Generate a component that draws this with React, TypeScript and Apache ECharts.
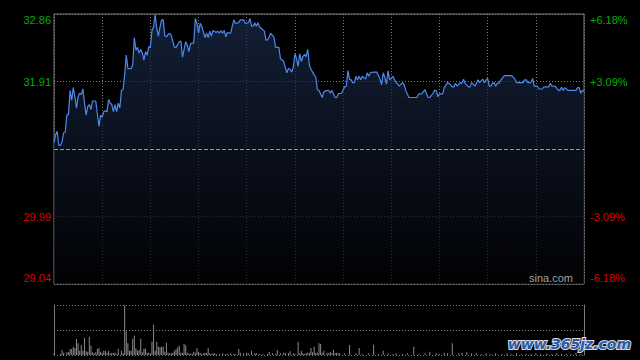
import React, { useEffect, useRef } from "react";
import * as echarts from "echarts";

// previous close and the percentage ticks of the right axis
const prevClose = 30.95;
const pctTicks = [6.18, 3.09, -3.09, -6.18];
const sessionMinutes = 330; // 09:30-12:00 + 13:00-16:00
const halfHour = 30;
const volumeAxisMax = 150;

// minute index since open, and last price at that minute
const minutes = [
  0, 1, 2, 3, 4, 5, 6, 7, 8, 9, 10, 11, 12, 13, 14, 15, 16, 17, 18, 19, 20, 21, 22, 23, 24, 26, 27, 28, 29, 30,
  31, 32, 33, 34, 35, 36, 37, 38, 39, 40, 41, 42, 43, 44, 45, 46, 48, 49, 50, 51, 52, 53, 54, 55, 56, 57, 58, 59, 60,
  61, 62, 63, 64, 65, 66, 67, 68, 69, 70, 71, 72, 73, 75, 76, 78, 79, 80, 82, 83, 84, 85, 86, 87, 88, 89, 90,
  91, 92, 93, 94, 95, 96, 97, 98, 99, 101, 102, 103, 104, 105, 106, 107, 108, 110, 111, 112, 113, 115, 116, 118, 119,
  121, 122, 123, 124, 125, 126, 127, 128, 129, 131, 132, 133, 134, 135, 137, 138, 140, 141, 142, 143, 145, 146, 147,
  148, 149, 150, 151, 152, 153, 154, 155, 156, 157, 158, 159, 160, 162, 163, 164, 165, 167, 168, 170, 171, 172, 173,
  175, 176, 177, 179, 181, 182, 183, 184, 185, 186, 187, 188, 189, 190, 191, 192, 194, 195, 196, 197, 199, 201, 202,
  203, 204, 205, 206, 207, 208, 209, 210, 211, 213, 214, 215, 217, 218, 219, 221, 226, 227, 229, 231, 232, 233, 234,
  236, 237, 238, 239, 240, 242, 243, 245, 246, 248, 249, 250, 251, 253, 254, 255, 256, 258, 259, 260, 262, 263, 264,
  265, 267, 268, 269, 270, 271, 272, 273, 274, 275, 276, 277, 278, 280, 281, 285, 287, 288, 292, 293, 294, 295, 297,
  298, 299, 301, 302, 304, 305, 308, 309, 310, 312, 314, 315, 316, 317, 318, 319, 320, 325, 326, 327, 328, 329, 330,
];
const prices = [
  31.04, 31.15, 31.2, 31.0, 31.0, 31.05, 31.18, 31.19, 31.43, 31.44, 31.78, 31.64, 31.82, 31.69, 31.53, 31.69, 31.74,
  31.72, 31.8, 31.6, 31.43, 31.55, 31.58, 31.51, 31.63, 31.63, 31.45, 31.27, 31.43, 31.4,
  31.48, 31.49, 31.48, 31.65, 31.6, 31.58, 31.48, 31.58, 31.48, 31.6, 31.53, 31.78, 31.79, 32.0, 32.28, 32.09, 32.09,
  32.14, 32.53, 32.35, 32.39, 32.31, 32.36, 32.31, 32.21, 32.33, 32.28, 32.4, 32.39,
  32.63, 32.68, 32.85, 32.66, 32.55, 32.68, 32.78, 32.78, 32.55, 32.54, 32.57, 32.59, 32.56, 32.39, 32.39, 32.47,
  32.48, 32.25, 32.47, 32.42, 32.33, 32.44, 32.45, 32.45, 32.8, 32.73, 32.59,
  32.73, 32.69, 32.61, 32.53, 32.59, 32.53, 32.62, 32.55, 32.63, 32.6, 32.62, 32.59, 32.63, 32.59, 32.63, 32.54,
  32.6, 32.59, 32.69, 32.78, 32.73, 32.74, 32.78, 32.78, 32.73,
  32.74, 32.8, 32.69, 32.69, 32.74, 32.69, 32.74, 32.68, 32.66, 32.62, 32.49, 32.5, 32.54, 32.59, 32.53, 32.39, 32.39,
  32.23, 32.21, 32.19, 32.03, 32.09, 32.08,
  32.04, 32.11, 32.3, 32.23, 32.12, 32.3, 32.19, 32.26, 32.29, 32.26, 32.36, 32.14, 32.08, 32.0, 31.97, 31.79, 31.78,
  31.68, 31.76, 31.78, 31.78, 31.74, 31.78,
  31.68, 31.68, 31.73, 31.74, 31.83, 31.84, 32.06, 31.94, 31.93, 31.89, 31.89, 31.98, 31.93, 31.98, 31.93, 31.98,
  31.94, 32.03, 31.98, 32.03, 32.04, 32.04, 31.99,
  31.94, 31.86, 32.03, 31.96, 31.87, 32.06, 31.93, 31.95, 31.98, 31.89, 31.87, 31.84, 31.89, 31.86, 31.78, 31.68,
  31.68, 31.73, 31.73, 31.79, 31.73, 31.68, 31.68,
  31.74, 31.78, 31.78, 31.69, 31.73, 31.73, 31.82, 31.89, 31.88, 31.83, 31.83, 31.88, 31.84, 31.89, 31.88, 31.94,
  31.88, 31.83, 31.83, 31.89, 31.84, 31.88, 31.93,
  31.89, 31.94, 31.89, 31.93, 31.95, 31.84, 31.84, 31.88, 31.89, 31.84, 31.88, 31.88, 31.92, 31.98, 31.99, 31.99,
  31.94, 31.89, 31.89, 31.93, 31.93, 31.89, 31.89,
  31.95, 31.84, 31.84, 31.8, 31.8, 31.83, 31.83, 31.88, 31.84, 31.84, 31.78, 31.78, 31.83, 31.78, 31.82, 31.8, 31.78,
  31.78, 31.82, 31.82, 31.74, 31.78, 31.77,
];

// minute index and traded volume (thousand shares) for the bars below
const volMinutes = [
  0, 4, 5, 6, 8, 9, 10, 11, 12, 13, 14, 15, 16, 17, 18, 19, 20, 21, 22, 23, 24, 25, 26, 27, 28, 29, 30, 31, 32, 33, 34,
  35, 36, 37, 38, 39, 40, 42, 43, 44, 45, 46, 47, 48, 49, 50, 51, 52, 53, 54, 55, 56, 57, 58, 59, 60, 61, 62, 63, 64,
  65, 66, 67, 68, 69, 70, 71, 72, 73, 74, 75, 76, 77, 78, 79, 80, 81, 82, 83, 84, 85, 86, 87, 88, 89, 90, 91, 92, 93,
  94, 95, 96, 97, 98, 99, 100, 101, 103, 105, 107, 108, 110, 112, 113, 115, 116, 118, 120, 121, 123, 125, 126, 128,
  130, 133, 134, 136, 138, 139, 141, 143, 144, 146, 147, 149, 150, 152, 153, 154, 155, 156, 157, 158, 159, 160, 161,
  162, 163, 164, 165, 166, 167, 168, 170, 171, 172, 173, 174, 175, 176, 177, 178, 181, 184, 188, 190, 192, 196, 199,
  202, 205, 208, 211, 213, 217, 220, 224, 227, 231, 234, 238, 240, 243, 245, 248, 252, 254, 257, 260, 263, 266, 269,
  272, 275, 279, 282, 285, 288, 291, 294, 297, 300, 303, 307, 310, 313, 316, 319, 322, 325, 328,
];
const volumes = [
  5, 3, 15, 7, 8, 9, 18, 18, 25, 21, 48, 35, 13, 30, 13, 52, 11, 10, 55, 28, 8, 5, 8, 18, 21, 10, 7, 13, 13, 7, 13,
  5, 6, 6, 7, 3, 19, 13, 5, 149, 71, 35, 13, 13, 49, 58, 20, 13, 15, 49, 8, 19, 19, 7, 7, 5, 40, 91, 13, 40,
  25, 23, 25, 25, 10, 37, 7, 5, 5, 7, 13, 17, 23, 28, 7, 7, 33, 29, 7, 5, 4, 3, 10, 7, 21, 10, 7, 3, 5, 7,
  7, 21, 5, 3, 5, 5, 3, 3, 5, 3, 3, 5, 3, 3, 18, 7, 5, 7, 5, 13, 5, 5, 3, 3,
  3, 10, 5, 3, 15, 5, 7, 7, 5, 11, 5, 3, 40, 5, 13, 5, 3, 5, 7, 7, 21, 8, 25,
  7, 7, 35, 33, 7, 13, 7, 5, 9, 5, 16, 5, 7, 5, 5, 5, 30, 5, 21, 3, 5, 31, 3,
  13, 5, 3, 5, 3, 5, 25, 3, 5, 10, 5, 3, 7, 5, 35, 5, 7, 8, 5, 5, 3, 5, 3,
  5, 3, 5, 3, 5, 3, 4, 3, 5, 3, 4, 3, 5, 3, 4, 3, 5, 3, 4,
];

const GREEN = "#00b000";
const RED = "#dd0000";
const GRID = "#7a7a7a";
const BORDER = "#7c7c7c";
const FONT = '"Liberation Sans", Arial, sans-serif';

export default function App() {
  const ref = useRef<HTMLDivElement>(null);

  useEffect(() => {
    if (!ref.current) return;
    const chart = echarts.init(ref.current, null, { renderer: "svg" });

    const pctMax = Math.max(...pctTicks);
    const priceMax = prevClose * (1 + pctMax / 100);
    const priceMin = prevClose * (1 - pctMax / 100);
    const priceTicks = pctTicks.map((p) => prevClose * (1 + p / 100));

    const near = (a: number, b: number) => Math.abs(a - b) < 1e-6;
    const pos = (v: number, lo: number, hi: number) => (near(v, hi) ? "T" : near(v, lo) ? "B" : "M");

    const richFor = () => ({
      upT: { color: GREEN, fontSize: 11, fontFamily: FONT, padding: [12, 0, 0, 0] },
      upM: { color: GREEN, fontSize: 11, fontFamily: FONT },
      upB: { color: GREEN, fontSize: 11, fontFamily: FONT, padding: [0, 0, 12, 0] },
      dnT: { color: RED, fontSize: 11, fontFamily: FONT, padding: [12, 0, 0, 0] },
      dnM: { color: RED, fontSize: 11, fontFamily: FONT },
      dnB: { color: RED, fontSize: 11, fontFamily: FONT, padding: [0, 0, 12, 0] },
    });

    const dotted = { color: GRID, type: [1, 2] as number[], width: 1 };

    chart.setOption({
      animation: false,
      backgroundColor: "#000000",
      grid: [
        { left: 54, right: 56, top: 14, height: 270, show: true, borderColor: BORDER, borderWidth: 1, backgroundColor: "transparent" },
        { left: 54, right: 56, top: 305, height: 50, show: false },
      ],
      xAxis: [
        {
          gridIndex: 0, type: "value", min: 0, max: sessionMinutes, interval: halfHour,
          axisLine: { show: false }, axisTick: { show: false }, axisLabel: { show: false },
          splitLine: { show: true, lineStyle: dotted },
        },
        {
          gridIndex: 1, type: "value", min: 0, max: sessionMinutes, interval: halfHour,
          axisLine: { show: false }, axisTick: { show: false }, axisLabel: { show: false },
          splitLine: { show: false },
        },
      ],
      yAxis: [
        {
          gridIndex: 0, type: "value", min: priceMin, max: priceMax, position: "left",
          axisLine: { show: false },
          axisTick: { show: false, customValues: priceTicks },
          axisLabel: {
            customValues: priceTicks, margin: 3,
            formatter: (v: number) => `{${v > prevClose ? "up" : "dn"}${pos(v, priceMin, priceMax)}|${v.toFixed(2)}}`,
            rich: richFor(),
          },
          splitLine: { show: true, lineStyle: dotted },
        },
        {
          gridIndex: 0, type: "value", min: -pctMax, max: pctMax, position: "right",
          axisLine: { show: false },
          axisTick: { show: false, customValues: pctTicks },
          axisLabel: {
            customValues: pctTicks, margin: 6,
            formatter: (v: number) =>
              `{${v > 0 ? "up" : "dn"}${pos(v, -pctMax, pctMax)}|${v > 0 ? "+" : ""}${v.toFixed(2)}%}`,
            rich: richFor(),
          },
          splitLine: { show: false },
        },
        {
          gridIndex: 1, type: "value", min: 0, max: volumeAxisMax, interval: volumeAxisMax / 2, position: "left",
          axisLine: { show: true, lineStyle: { color: BORDER, width: 1 } },
          axisTick: { show: false }, axisLabel: { show: false },
          splitLine: { show: true, lineStyle: dotted },
        },
        {
          gridIndex: 1, type: "value", min: 0, max: volumeAxisMax, interval: volumeAxisMax / 2, position: "right",
          axisLine: { show: true, lineStyle: { color: BORDER, width: 1 } },
          axisTick: { show: false }, axisLabel: { show: false },
          splitLine: { show: false },
        },
      ],
      series: [
        {
          type: "line",
          xAxisIndex: 0,
          yAxisIndex: 0,
          data: minutes.map((m, i) => [m, prices[i]]),
          symbol: "none",
          lineStyle: { color: "#4d88ec", width: 1.2 },
          areaStyle: {
            color: new echarts.graphic.LinearGradient(0, 0, 0, 1, [
              { offset: 0, color: "#1b2c4c" },
              { offset: 0.5, color: "#0e1628" },
              { offset: 1, color: "#020305" },
            ]),
          },
          markLine: {
            silent: true,
            symbol: "none",
            label: { show: false },
            lineStyle: { color: "#9a9a9a", type: [4, 2], width: 1 },
            data: [{ yAxis: prevClose }],
          },
          z: 3,
        },
        {
          type: "bar",
          xAxisIndex: 1,
          yAxisIndex: 2,
          data: volMinutes.map((m, i) => [m, volumes[i]]),
          barWidth: 1,
          itemStyle: { color: "#8a8a8a" },
        },
      ],
      graphic: [
        {
          type: "text",
          right: 67,
          top: 272,
          style: { text: "sina.com", fill: "#a0a0a0", font: `11px ${FONT}` },
          z: 10,
        },
        {
          type: "text",
          right: 8,
          top: 336,
          style: {
            text: "www.365jz.com",
            fill: "#2a5aa6",
            stroke: "#d8dde6",
            lineWidth: 2,
            font: 'italic bold 14px "DejaVu Sans", sans-serif',
          },
          z: 20,
        },
      ],
    });

    return () => chart.dispose();
  }, []);

  return (
    <div
      ref={ref}
      style={{ position: "fixed", left: 0, top: 0, width: 640, height: 360, background: "#000" }}
    />
  );
}
